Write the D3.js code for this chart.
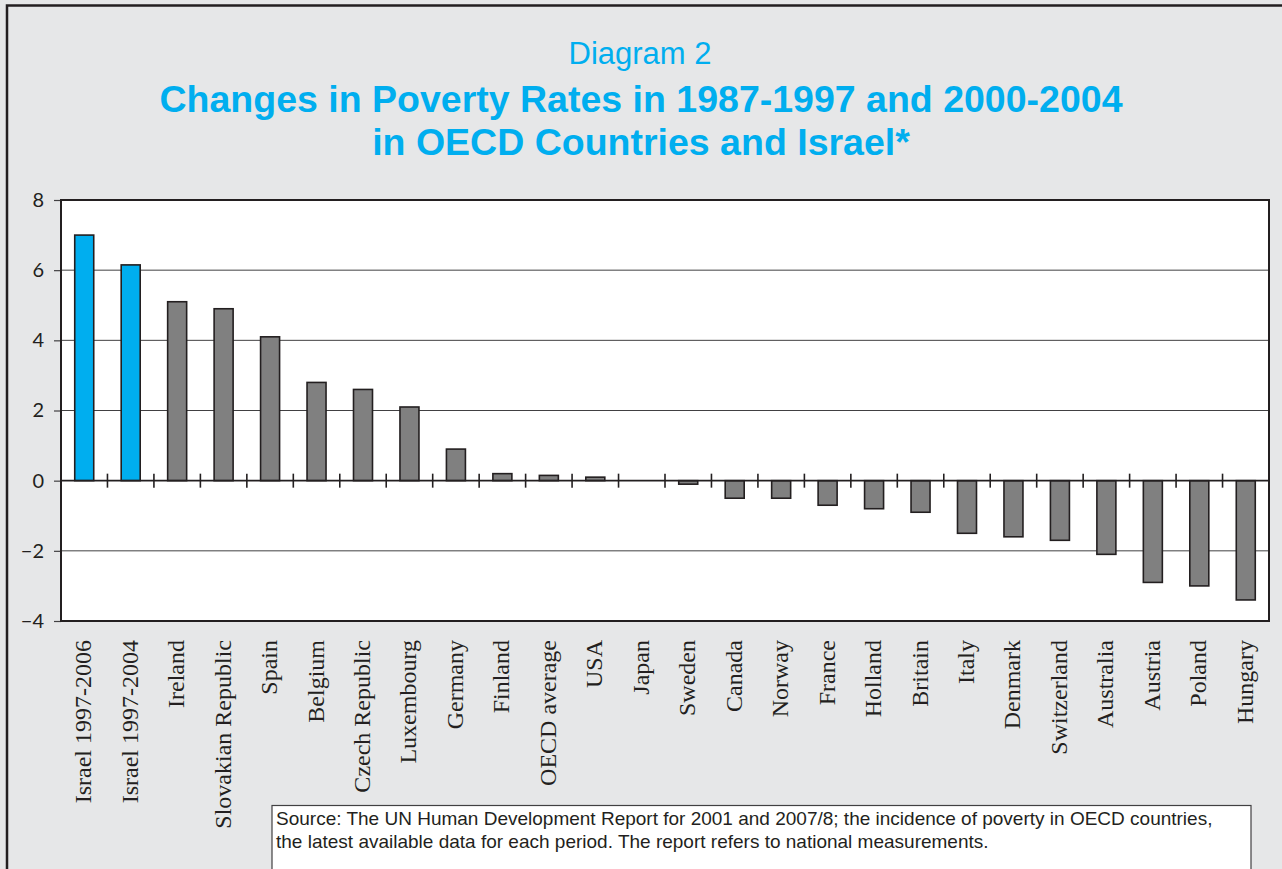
<!DOCTYPE html>
<html>
<head>
<meta charset="utf-8">
<script src="https://cdn.jsdelivr.net/npm/d3@7"></script>
<style>
  html, body { margin: 0; padding: 0; background: #e6e7e8; }
  svg { display: block; }
</style>
</head>
<body>
<svg id="chart" width="1282" height="869"></svg>
<script>
// Change in poverty rate (percentage points) per country
const categories = [
  "Israel 1997-2006", "Israel 1997-2004", "Ireland", "Slovakian Republic", "Spain",
  "Belgium", "Czech Republic", "Luxembourg", "Germany", "Finland", "OECD average",
  "USA", "Japan", "Sweden", "Canada", "Norway", "France", "Holland", "Britain",
  "Italy", "Denmark", "Switzerland", "Australia", "Austria", "Poland", "Hungary"
];
const values = [
  7.0, 6.15, 5.1, 4.9, 4.1,
  2.8, 2.6, 2.1, 0.9, 0.2, 0.15,
  0.1, 0, -0.1, -0.5, -0.5, -0.7, -0.8, -0.9,
  -1.5, -1.6, -1.7, -2.1, -2.9, -3.0, -3.4
];
const highlighted = ["Israel 1997-2006", "Israel 1997-2004"];
const yTicks = [-4, -2, 0, 2, 4, 6, 8];

const titleSmall = "Diagram 2";
const titleLines = ["Changes in Poverty Rates in 1987-1997 and 2000-2004", "in OECD Countries and Israel*"];
const sourceLines = [
  "Source: The UN Human Development Report for 2001 and 2007/8; the incidence of poverty in OECD countries,",
  "the latest available data for each period. The report refers to national measurements."
];

const svg = d3.select("#chart");
const W = 1282, H = 869;
const plot = { left: 61, right: 1269, top: 200, bottom: 621 };
const dark = "#231f20";
const blue = "#00aeef";

// Outer frame
svg.append("rect").attr("x", 0).attr("y", 0).attr("width", W).attr("height", H).attr("fill", "#e6e7e8");
svg.append("path")
  .attr("d", `M7,${H + 5} L7,5.5 L${W + 5},5.5`)
  .attr("fill", "none").attr("stroke", dark).attr("stroke-width", 2.5);

// Titles
svg.append("text").attr("x", 640).attr("y", 64).attr("text-anchor", "middle")
  .attr("font-family", "Liberation Sans, Arial, sans-serif").attr("font-size", 31)
  .attr("fill", blue).text(titleSmall);
titleLines.forEach((t, i) => {
  svg.append("text").attr("x", 641).attr("y", 112 + i * 43).attr("text-anchor", "middle")
    .attr("font-family", "Liberation Sans, Arial, sans-serif").attr("font-size", 37.5)
    .attr("font-weight", "bold").attr("fill", blue).text(t);
});

// Scales
const x = d3.scaleBand().domain(categories).range([plot.left, plot.right]).paddingInner(0).paddingOuter(0);
const y = d3.scaleLinear().domain([-4, 8]).range([plot.bottom, plot.top]);
const barW = 19;

// Plot background
svg.append("rect").attr("x", plot.left).attr("y", plot.top)
  .attr("width", plot.right - plot.left).attr("height", plot.bottom - plot.top)
  .attr("fill", "#ffffff");

// Gridlines
svg.append("g").selectAll("line").data(yTicks.filter(v => v !== 0 && v !== -4 && v !== 8)).join("line")
  .attr("x1", plot.left).attr("x2", plot.right)
  .attr("y1", d => y(d)).attr("y2", d => y(d))
  .attr("stroke", "#414042").attr("stroke-width", 1);

// Y axis
const yAxis = svg.append("g").attr("transform", `translate(${plot.left},0)`)
  .call(d3.axisLeft(y).tickValues(yTicks).tickSize(7).tickPadding(10).tickFormat(d3.format("d")));
yAxis.select(".domain").remove();
yAxis.selectAll(".tick line").attr("stroke", "#414042").attr("stroke-width", 1.2);
yAxis.selectAll(".tick text").attr("font-family", "Lato, 'DejaVu Sans', sans-serif")
  .attr("font-size", 20).attr("fill", dark);

// Bars
svg.append("g").selectAll("rect").data(categories).join("rect")
  .attr("x", d => x(d) + (x.bandwidth() - barW) / 2)
  .attr("width", barW)
  .attr("y", (d, i) => y(Math.max(0, values[i])))
  .attr("height", (d, i) => Math.abs(y(values[i]) - y(0)))
  .attr("fill", d => highlighted.includes(d) ? blue : "#808080")
  .attr("stroke", dark).attr("stroke-width", 1.6);

// Zero axis with crossing ticks at band boundaries
const zeroY = y(0);
svg.append("line").attr("x1", plot.left).attr("x2", plot.right)
  .attr("y1", zeroY).attr("y2", zeroY).attr("stroke", dark).attr("stroke-width", 1.8);
const boundaries = categories.slice(1).map(c => x(c));
svg.append("g").selectAll("line").data(boundaries).join("line")
  .attr("x1", d => d).attr("x2", d => d)
  .attr("y1", zeroY - 7).attr("y2", zeroY + 7)
  .attr("stroke", dark).attr("stroke-width", 1.6);

// Plot border
svg.append("rect").attr("x", plot.left).attr("y", plot.top)
  .attr("width", plot.right - plot.left).attr("height", plot.bottom - plot.top)
  .attr("fill", "none").attr("stroke", dark).attr("stroke-width", 2);

// Category labels (rotated)
svg.append("g").selectAll("text").data(categories).join("text")
  .attr("transform", d => `translate(${x(d) + x.bandwidth() / 2 + 7},${plot.bottom + 19}) rotate(-90)`)
  .attr("text-anchor", "end")
  .attr("font-family", "Liberation Serif, 'Times New Roman', serif")
  .attr("font-size", 24).attr("fill", dark)
  .text(d => d);

// Source box
svg.append("rect").attr("x", 272).attr("y", 805.5).attr("width", 979).attr("height", 80)
  .attr("fill", "#ffffff").attr("stroke", "#414042").attr("stroke-width", 1.2);
sourceLines.forEach((t, i) => {
  svg.append("text").attr("x", 276).attr("y", 825 + i * 23)
    .attr("font-family", "Liberation Sans, Arial, sans-serif").attr("font-size", 19)
    .attr("fill", dark).text(t);
});
</script>
</body>
</html>
